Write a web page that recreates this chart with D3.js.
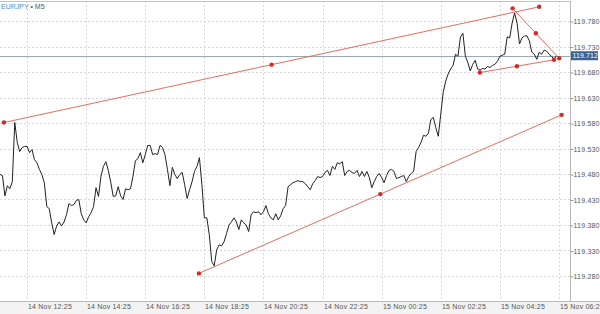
<!DOCTYPE html>
<html><head><meta charset="utf-8">
<script src="https://cdn.jsdelivr.net/npm/d3@7"></script>
<style>
html,body{margin:0;padding:0;background:#fff;}
svg{display:block;font-family:"Liberation Sans",Arial,sans-serif;}
</style></head>
<body><svg id="c" width="600" height="314"></svg>
<script>
// ---- data ----
const symbol = "EURJPY";
const timeframe = "M5";
const startTime = "14 Nov 11:30";     // first 5-minute bar
const barMinutes = 5;
const prices = [
119.479,119.477,119.437,119.457,119.451,119.465,119.581,119.542,119.524,119.532,
119.534,119.534,119.522,119.528,119.508,119.502,119.489,119.479,119.463,119.416,
119.412,119.384,119.361,119.378,119.386,119.378,119.386,119.400,119.422,119.418,
119.420,119.428,119.430,119.402,119.390,119.384,119.396,119.404,119.416,119.453,
119.436,119.475,119.495,119.504,119.487,119.463,119.436,119.437,119.455,119.437,
119.430,119.451,119.449,119.451,119.475,119.506,119.510,119.522,119.502,119.518,
119.536,119.536,119.518,119.520,119.518,119.536,119.532,119.518,119.489,119.457,
119.493,119.479,119.471,119.479,119.483,119.459,119.432,119.449,119.465,119.485,
119.495,119.512,119.459,119.394,119.394,119.361,119.308,119.300,119.331,119.341,
119.339,119.347,119.363,119.380,119.386,119.394,119.386,119.371,119.390,119.384,
119.380,119.367,119.400,119.406,119.404,119.406,119.400,119.406,119.418,119.402,
119.394,119.390,119.402,119.390,119.398,119.412,119.418,119.455,119.459,119.463,
119.465,119.467,119.465,119.465,119.461,119.455,119.449,119.461,119.467,119.475,
119.473,119.475,119.483,119.487,119.477,119.495,119.489,119.502,119.500,119.504,
119.477,119.485,119.487,119.483,119.481,119.487,119.475,119.485,119.475,119.485,
119.473,119.453,119.465,119.475,119.481,119.473,119.463,119.477,119.487,119.489,
119.485,119.471,119.473,119.475,119.477,119.465,119.475,119.481,119.485,119.524,
119.532,119.542,119.556,119.554,119.560,119.587,119.591,119.571,119.554,119.597,
119.640,119.662,119.676,119.686,119.693,119.715,119.711,119.749,119.756,119.711,
119.699,119.682,119.695,119.703,119.686,119.684,119.687,119.686,119.691,119.689,
119.693,119.695,119.701,119.711,119.713,119.715,119.749,119.747,119.776,119.796,
119.776,119.735,119.747,119.751,119.751,119.741,119.719,119.715,119.705,119.719,
119.715,119.723,119.721,119.715,119.711,119.705,119.712
];
const currentPrice = 119.712;
const timeTickLabels = ["14 Nov 12:25","14 Nov 14:25","14 Nov 16:25","14 Nov 18:25","14 Nov 20:25",
  "14 Nov 22:25","15 Nov 00:25","15 Nov 02:25","15 Nov 04:25","15 Nov 06:25"];
const priceTicks = [119.280,119.330,119.380,119.430,119.480,119.530,119.580,119.630,119.680,119.730,119.780];
// trend lines: [start bar, start price, end bar, end price]
const trendStartBars  = [1.6, 80.8, 208.2, 194.9];
const trendStartPrice = [119.581, 119.285, 119.805, 119.679];
const trendEndBars    = [219.0, 228.1, 227.1, 225.0];
const trendEndPrice   = [119.808, 119.596, 119.707, 119.704];
const viewEndBar = 231.5;
const priceMin = 119.2308, priceMax = 119.8194;

// ---- drawing ----
const parse = d3.timeParse("%d %b %H:%M");
const t0 = parse(startTime);
const barTime = i => new Date(t0.getTime() + i * barMinutes * 60000);

const W = 600, H = 314;
const plot = {l: 0, r: 570, t: 1, b: 301};
const svg = d3.select("#c");

const x = d3.scaleTime().domain([t0, barTime(viewEndBar)]).range([plot.l, plot.r]);
const y = d3.scaleLinear().domain([priceMin, priceMax]).range([plot.b, plot.t]);

// bottom strip
svg.append("rect").attr("x",0).attr("y",plot.b).attr("width",W).attr("height",H-plot.b).attr("fill","#f3f3f3");

// grid
const grid = svg.append("g");
const tickDates = timeTickLabels.map(parse);
grid.selectAll("line.v").data(tickDates).enter().append("line")
  .attr("x1",d=>Math.round(x(d))+0.5).attr("x2",d=>Math.round(x(d))+0.5)
  .attr("y1",plot.t).attr("y2",plot.b)
  .attr("stroke","#d8d8d8").attr("stroke-width",1).attr("stroke-dasharray","2,2");
grid.selectAll("line.h").data(priceTicks).enter().append("line")
  .attr("x1",plot.l).attr("x2",plot.r)
  .attr("y1",d=>Math.round(y(d))+0.5).attr("y2",d=>Math.round(y(d))+0.5)
  .attr("stroke","#d8d8d8").attr("stroke-width",1).attr("stroke-dasharray","2,2");

// current price line
svg.append("line").attr("x1",plot.l).attr("x2",plot.r)
  .attr("y1",Math.round(y(currentPrice))+0.5).attr("y2",Math.round(y(currentPrice))+0.5)
  .attr("stroke","#9aa9b3").attr("stroke-width",1);

// price line
const line = d3.line().x((d,i)=>x(barTime(i))).y(d=>y(d));
svg.append("path").datum(prices).attr("d",line)
  .attr("fill","none").attr("stroke","#222").attr("stroke-width",1);

// trend lines
const trends = trendStartBars.map((b,k)=>({
  x1: x(barTime(b)), y1: y(trendStartPrice[k]),
  x2: x(barTime(trendEndBars[k])), y2: y(trendEndPrice[k])
}));
const tg = svg.append("g");
tg.selectAll("line").data(trends).enter().append("line")
  .attr("x1",d=>d.x1).attr("y1",d=>d.y1).attr("x2",d=>d.x2).attr("y2",d=>d.y2)
  .attr("stroke","#e0705f").attr("stroke-width",1);
const dots = [];
trends.forEach(d=>{ dots.push([d.x1,d.y1],[ (d.x1+d.x2)/2,(d.y1+d.y2)/2 ],[d.x2,d.y2]); });
tg.selectAll("circle").data(dots).enter().append("circle")
  .attr("cx",d=>d[0]).attr("cy",d=>d[1]).attr("r",2.2).attr("fill","#d42a2a");

// frame
svg.append("line").attr("x1",0).attr("x2",plot.r+0.5).attr("y1",plot.t+0.5).attr("y2",plot.t+0.5).attr("stroke","#c4c4c4");
svg.append("line").attr("x1",plot.r+0.5).attr("x2",plot.r+0.5).attr("y1",plot.t).attr("y2",plot.b+1).attr("stroke","#b8b8b8");
svg.append("line").attr("x1",0).attr("x2",W).attr("y1",plot.b+0.5).attr("y2",plot.b+0.5).attr("stroke","#b8b8b8");

// y axis
const ya = d3.axisRight(y).tickValues(priceTicks).tickSize(3).tickFormat(d3.format(".3f"));
const yg = svg.append("g").attr("transform",`translate(${plot.r+0.5},0.5)`).call(ya);
yg.select(".domain").remove();
yg.selectAll("line").attr("stroke","#999");
yg.selectAll("text").attr("x",3).attr("fill","#555").style("font-size","7px").style("letter-spacing","0.2px");

// x axis labels
svg.append("g").selectAll("text").data(tickDates).enter().append("text")
  .attr("x",d=>Math.round(x(d))+1).attr("y",309)
  .attr("fill","#555").style("font-size","7px").style("letter-spacing","0.2px")
  .text((d,i)=>timeTickLabels[i]);

// current price tag
const cy = y(currentPrice);
svg.append("rect").attr("x",plot.r+1).attr("y",cy-4.5).attr("width",27).attr("height",9).attr("fill","#3f6391");
svg.append("text").attr("x",plot.r+2.5).attr("y",cy+2.5).attr("fill","#fff")
  .style("font-size","7px").style("letter-spacing","0.1px").text(d3.format(".3f")(currentPrice));

// title
const title = svg.append("text").attr("x",1).attr("y",9).style("font-size","7px");
title.append("tspan").attr("fill","#4a8fd6").text(symbol);
title.append("tspan").attr("fill","#555").text(" \u2022 " + timeframe);
</script></body></html>
